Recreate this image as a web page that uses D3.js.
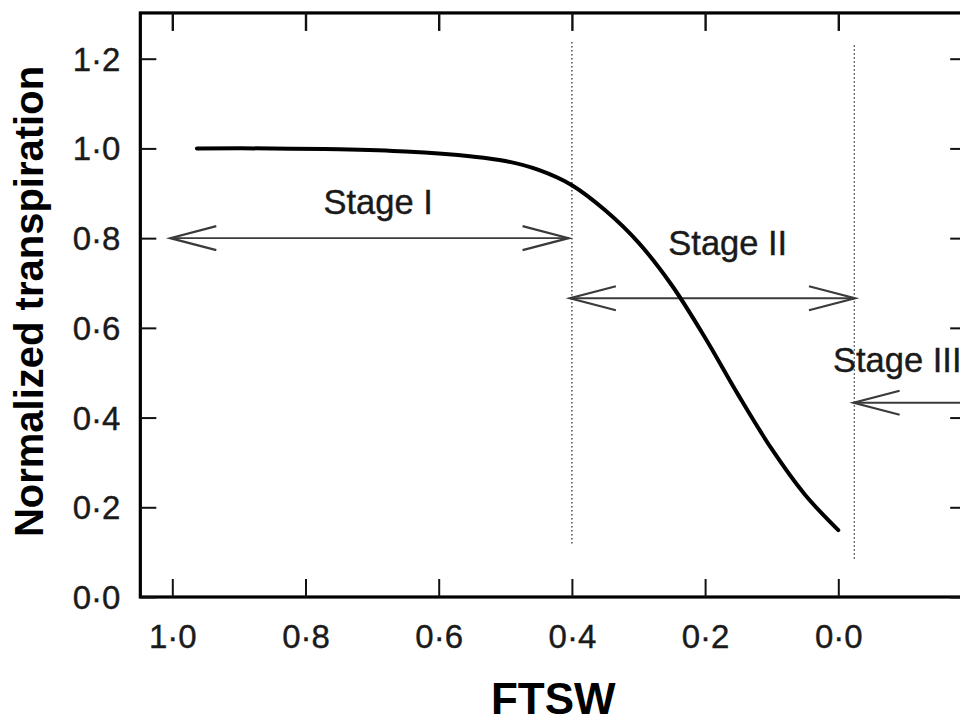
<!DOCTYPE html>
<html>
<head>
<meta charset="utf-8">
<script src="https://cdn.jsdelivr.net/npm/d3@7"></script>
<style>
  html, body { margin: 0; padding: 0; background: #fff; }
  svg { display: block; font-family: "Liberation Sans", Arial, Helvetica, sans-serif; }
</style>
</head>
<body>
<svg id="chart" width="960" height="726"></svg>
<script>
// curve (FTSW goes from 1 down to 0, left to right)
const ftsw   = [0.963, 0.85, 0.75, 0.65, 0.55, 0.50, 0.45, 0.40, 0.35, 0.30, 0.25, 0.20, 0.15, 0.10, 0.05, 0.0];
const transp = [1.0,   1.0,  0.998, 0.993, 0.982, 0.972, 0.952, 0.918, 0.862, 0.79, 0.695, 0.578, 0.45, 0.33, 0.228, 0.149];

const xTicks = [1.0, 0.8, 0.6, 0.4, 0.2, 0.0];
const yTicks = [0.0, 0.2, 0.4, 0.6, 0.8, 1.0, 1.2];

// stage arrows: start, end (FTSW) and level (transpiration)
const stageNames = ["Stage I", "Stage II", "Stage III"];
const stageFrom  = [1.003, 0.403, -0.023];
const stageTo    = [0.405, -0.025, -0.30];
const stageLevel = [0.8, 0.666, 0.433];
// label anchor in data units
const stageLabelX = [0.691, 0.166, 0.008];
const stageLabelY = [0.854, 0.762, 0.502];
const stageAnchor = ["middle", "middle", "start"];

// dotted boundaries between stages
const boundX   = [0.4, -0.024];
const boundLow = [0.116, 0.082];
const boundTop = [1.237, 1.23];

const svg = d3.select("#chart");

// x: 1.0 -> 0.0 left to right
const x = d3.scaleLinear().domain([1, 0]).range([172.3, 838.3]);
const y = d3.scaleLinear().domain([0, 1.2]).range([597, 58.7]);

const frameX = [1.048, -0.192];
const frameY = [0, 1.302];

const fmt = d => d3.format(".1f")(d).replace(".", "·");

// frame
svg.append("rect")
  .attr("x", x(frameX[0]))
  .attr("y", y(frameY[1]))
  .attr("width", x(frameX[1]) - x(frameX[0]))
  .attr("height", y(frameY[0]) - y(frameY[1]))
  .attr("fill", "none")
  .attr("stroke", "#000")
  .attr("stroke-width", 3.2);

// bottom axis
const gx = svg.append("g")
  .attr("transform", "translate(0," + y(0) + ")")
  .call(d3.axisBottom(x).tickValues(xTicks).tickSize(-18).tickFormat(fmt));
gx.select(".domain").remove();
gx.selectAll(".tick line").attr("stroke", "#111").attr("stroke-width", 2);
gx.selectAll(".tick text")
  .attr("y", 51).attr("dy", null)
  .attr("font-size", 33).attr("fill", "#1a1a1a")
  .attr("stroke", "#1a1a1a").attr("stroke-width", 0.4);

// top ticks
const gxt = svg.append("g")
  .attr("transform", "translate(0," + y(frameY[1]) + ")")
  .call(d3.axisTop(x).tickValues(xTicks).tickSize(-18).tickFormat(""));
gxt.select(".domain").remove();
gxt.selectAll(".tick line").attr("stroke", "#111").attr("stroke-width", 2.4);

// left axis
const gy = svg.append("g")
  .attr("transform", "translate(" + x(frameX[0]) + ",0)")
  .call(d3.axisLeft(y).tickValues(yTicks).tickSize(-16).tickFormat(fmt));
gy.select(".domain").remove();
gy.selectAll(".tick line").attr("stroke", "#111").attr("stroke-width", 2);
gy.selectAll(".tick text")
  .attr("x", -20).attr("dy", "0.35em")
  .attr("font-size", 33).attr("fill", "#1a1a1a")
  .attr("stroke", "#1a1a1a").attr("stroke-width", 0.4);

// right ticks
const gyr = svg.append("g")
  .attr("transform", "translate(" + x(frameX[1]) + ",0)")
  .call(d3.axisRight(y).tickValues(yTicks).tickSize(-16).tickFormat(""));
gyr.select(".domain").remove();
gyr.selectAll(".tick line").attr("stroke", "#111").attr("stroke-width", 2);

// axis titles
svg.append("text")
  .attr("transform", "translate(43,301.5) rotate(-90)")
  .attr("text-anchor", "middle")
  .attr("font-size", 40)
  .attr("font-weight", "bold")
  .text("Normalized transpiration");

svg.append("text")
  .attr("x", (x(1) + x(0)) / 2 + 48)
  .attr("y", 714)
  .attr("text-anchor", "middle")
  .attr("font-size", 44)
  .attr("font-weight", "bold")
  .text("FTSW");

// dotted stage boundaries
svg.selectAll(".bound")
  .data(boundX)
  .join("line")
  .attr("class", "bound")
  .attr("x1", d => x(d)).attr("x2", d => x(d))
  .attr("y1", (d, i) => y(boundTop[i]))
  .attr("y2", (d, i) => y(boundLow[i]))
  .attr("stroke", "#222")
  .attr("stroke-width", 1.2)
  .attr("stroke-dasharray", "1.5,2.5");

// stage arrows
const headLen = 46, headHalf = 12;
stageNames.forEach((name, i) => {
  const x0 = x(stageFrom[i]), x1 = x(stageTo[i]), yy = y(stageLevel[i]);
  svg.append("line")
    .attr("x1", x0).attr("x2", x1)
    .attr("y1", yy).attr("y2", yy)
    .attr("stroke", "#3a3a3a")
    .attr("stroke-width", 1.8);
  // open chevron heads at both ends
  [[x0, 1], [x1, -1]].forEach(([tip, dir]) => {
    svg.append("path")
      .attr("d", "M" + (tip + dir * headLen) + "," + (yy - headHalf) +
                 "L" + tip + "," + yy +
                 "L" + (tip + dir * headLen) + "," + (yy + headHalf))
      .attr("fill", "none")
      .attr("stroke", "#3a3a3a")
      .attr("stroke-width", 2.2);
  });
  svg.append("text")
    .attr("x", x(stageLabelX[i]))
    .attr("y", y(stageLabelY[i]))
    .attr("text-anchor", stageAnchor[i])
    .attr("font-size", 34.5)
    .attr("fill", "#1a1a1a")
    .attr("stroke", "#1a1a1a").attr("stroke-width", 0.4)
    .text(name);
});

// the transpiration curve
const pts = ftsw.map((d, i) => [d, transp[i]]);
const line = d3.line()
  .x(d => x(d[0]))
  .y(d => y(d[1]))
  .curve(d3.curveCatmullRom.alpha(0.5));

svg.append("path")
  .datum(pts)
  .attr("d", line)
  .attr("fill", "none")
  .attr("stroke", "#000")
  .attr("stroke-width", 4)
  .attr("stroke-linecap", "round");
</script>
</body>
</html>
